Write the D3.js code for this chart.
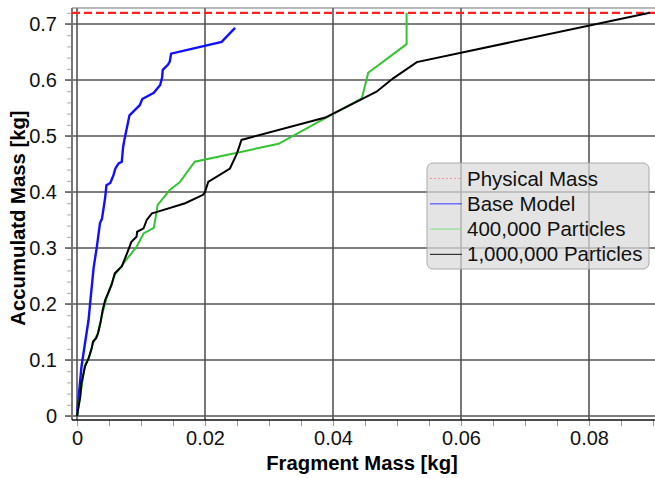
<!DOCTYPE html>
<html>
<head>
<meta charset="utf-8">
<script src="https://cdn.jsdelivr.net/npm/d3@7"></script>
<style>
  body { margin: 0; background: #fff; }
  svg { display: block; font-family: "Liberation Sans", Arial, sans-serif; }
</style>
</head>
<body>
<div id="chart"></div>
<script>
// physical (total) mass of the object
var physicalMass = 0.72

// cumulative mass vs fragment mass
var baseModel = [
  [0,0],[0.0003,0.04],[0.0007,0.088],[0.00125,0.13],[0.0018,0.171],[0.0021,0.207],
  [0.0026,0.265],[0.0031,0.302],[0.0036,0.345],[0.0039,0.352],[0.0044,0.39],
  [0.0046,0.412],[0.0052,0.416],[0.0057,0.43],[0.006,0.442],[0.0065,0.451],
  [0.007,0.454],[0.0072,0.48],[0.0074,0.493],[0.0082,0.537],[0.0098,0.555],
  [0.0102,0.566],[0.012,0.577],[0.013,0.591],[0.0133,0.605],[0.0134,0.618],
  [0.0142,0.627],[0.0145,0.633],[0.0147,0.647],[0.0226,0.668],[0.0247,0.693]
]

var particles400k = [
  [0,0],[0.0005,0.035],[0.0012,0.09],[0.0019,0.105],[0.0025,0.13],[0.0032,0.146],
  [0.0039,0.18],[0.0046,0.21],[0.0059,0.252],[0.0077,0.279],[0.0093,0.302],
  [0.0104,0.326],[0.012,0.336],[0.0124,0.362],[0.0126,0.377],[0.0145,0.4035],
  [0.0161,0.418],[0.0184,0.454],[0.0315,0.486],[0.0388,0.532],[0.0445,0.567],
  [0.0455,0.613],[0.0515,0.664],[0.0515,0.72]
]

var particles1m = [
  [0,0],[0.0005,0.034],[0.0007,0.059],[0.00125,0.088],[0.0018,0.103],[0.0023,0.121],
  [0.0025,0.133],[0.003,0.139],[0.0033,0.148],[0.0037,0.168],[0.004,0.189],
  [0.0044,0.207],[0.0054,0.234],[0.0059,0.255],[0.007,0.267],[0.0078,0.29],
  [0.0085,0.311],[0.0093,0.32],[0.0094,0.329],[0.0104,0.335],[0.0109,0.35],
  [0.0117,0.362],[0.0124,0.364],[0.0169,0.38],[0.0197,0.395],[0.02,0.4],
  [0.0205,0.418],[0.0239,0.442],[0.025,0.469],[0.0257,0.493],[0.0388,0.533],
  [0.0468,0.579],[0.0494,0.603],[0.0531,0.632],[0.0895,0.72]
]

var xTicks = [0, 0.02, 0.04, 0.06, 0.08]
var yTicks = [0, 0.1, 0.2, 0.3, 0.4, 0.5, 0.6, 0.7]
var legendLabels = ["Physical Mass", "Base Model", "400,000 Particles", "1,000,000 Particles"]

var W = 655, H = 478

var svg = d3.select("#chart").append("svg")
  .attr("width", W)
  .attr("height", H)

// scales: 0 -> 77px, 0.02 steps of 128px ; y 0 -> 416px, 0.1 steps of 56px
var x = d3.scaleLinear().domain([0, 0.09]).range([77, 653])
var y = d3.scaleLinear().domain([0, 0.7]).range([416, 24])

// plot edges (don't call it "top", that is window.top)
var pLeft = 72, pRight = W, pTop = 8, pBottom = 420

// minor ticks
var xMinor = d3.range(0, 0.0901, 0.005)
var yMinor = d3.range(0, 0.721, 0.02)

svg.append("g")
  .attr("transform", "translate(0," + pBottom + ")")
  .call(d3.axisBottom(x).tickValues(xMinor).tickSize(6).tickFormat(""))
  .call(g => g.select(".domain").remove())
  .selectAll("line").style("stroke", "#999").style("stroke-width", 1)

svg.append("g")
  .attr("transform", "translate(" + pLeft + ",0)")
  .call(d3.axisLeft(y).tickValues(yMinor).tickSize(5).tickFormat(""))
  .call(g => g.select(".domain").remove())
  .selectAll("line").style("stroke", "#aaa").style("stroke-width", 1)

// grid lines
svg.append("g")
  .selectAll("line")
  .data(xTicks)
  .join("line")
  .attr("x1", d => x(d)).attr("x2", d => x(d))
  .attr("y1", pTop).attr("y2", pBottom)
  .style("stroke", "#555")
  .style("stroke-width", 1.6)

svg.append("g")
  .selectAll("line")
  .data(yTicks)
  .join("line")
  .attr("x1", pLeft - 7).attr("x2", pRight)
  .attr("y1", d => y(d)).attr("y2", d => y(d))
  .style("stroke", "#555")
  .style("stroke-width", 1.6)

// top border
svg.append("line")
  .attr("x1", pLeft).attr("x2", pRight)
  .attr("y1", pTop).attr("y2", pTop)
  .style("stroke", "#777").style("stroke-width", 1.2)

// axis frame
svg.append("line")
  .attr("x1", pLeft).attr("x2", pLeft)
  .attr("y1", pTop).attr("y2", pBottom)
  .style("stroke", "#777").style("stroke-width", 2)

svg.append("line")
  .attr("x1", pLeft).attr("x2", pRight)
  .attr("y1", pBottom).attr("y2", pBottom)
  .style("stroke", "#111").style("stroke-width", 1.5)

// tick labels
var xAxis = svg.append("g")
  .attr("transform", "translate(0," + pBottom + ")")
  .call(d3.axisBottom(x).tickValues(xTicks).tickSize(0).tickPadding(11)
    .tickFormat(d => d === 0 ? "0" : d3.format(".2f")(d)))
xAxis.select(".domain").remove()
xAxis.selectAll("text")
  .style("font-family", "Liberation Sans, Arial, sans-serif")
  .style("font-size", "20px")
  .style("fill", "#111")

var yAxis = svg.append("g")
  .attr("transform", "translate(" + pLeft + ",0)")
  .call(d3.axisLeft(y).tickValues(yTicks).tickSize(0).tickPadding(15)
    .tickFormat(d => d === 0 ? "0" : d3.format(".1f")(d)))
yAxis.select(".domain").remove()
yAxis.selectAll("text")
  .style("font-family", "Liberation Sans, Arial, sans-serif")
  .style("font-size", "20px")
  .style("fill", "#111")

// axis titles
svg.append("text")
  .attr("x", 362)
  .attr("y", 470)
  .attr("text-anchor", "middle")
  .style("font-size", "20.3px")
  .style("font-weight", "bold")
  .text("Fragment Mass [kg]")

svg.append("text")
  .attr("transform", "translate(25,218) rotate(-90)")
  .attr("text-anchor", "middle")
  .style("font-size", "20.3px")
  .style("font-weight", "bold")
  .text("Accumulatd Mass [kg]")

// data lines, clipped to the plot
svg.append("clipPath").attr("id", "plot-clip")
  .append("rect")
  .attr("x", pLeft).attr("y", pTop - 2)
  .attr("width", pRight - pLeft).attr("height", pBottom - pTop + 2)

var plot = svg.append("g").attr("clip-path", "url(#plot-clip)")

var line = d3.line().x(d => x(d[0])).y(d => y(d[1]))

plot.append("line")
  .attr("x1", pLeft).attr("x2", pRight)
  .attr("y1", y(physicalMass)).attr("y2", y(physicalMass))
  .style("stroke", "#ff2020")
  .style("stroke-width", 2.2)
  .style("stroke-dasharray", "8,4")

plot.append("path").datum(baseModel)
  .attr("d", line)
  .style("fill", "none").style("stroke", "#1010ff").style("stroke-width", 2.4)

plot.append("path").datum(particles400k)
  .attr("d", line)
  .style("fill", "none").style("stroke", "#33c333").style("stroke-width", 2)

plot.append("path").datum(particles1m)
  .attr("d", line)
  .style("fill", "none").style("stroke", "#000").style("stroke-width", 2)

// legend
var legend = svg.append("g").attr("transform", "translate(427,163)")

legend.append("rect")
  .attr("width", 222).attr("height", 106)
  .attr("rx", 6).attr("ry", 6)
  .style("fill", "rgba(218,218,218,0.72)")
  .style("stroke", "#aaa")
  .style("stroke-width", 1)

var legendStyles = [
  {color: "#ff9090", dash: "2,2"},
  {color: "#5050ff", dash: null},
  {color: "#90e090", dash: null},
  {color: "#333", dash: null}
]

legendLabels.forEach(function(label, i) {
  var cy = 15.5 + i * 25.3
  legend.append("line")
    .attr("x1", 3).attr("x2", 35)
    .attr("y1", cy).attr("y2", cy)
    .style("stroke", legendStyles[i].color)
    .style("stroke-width", 1.2)
    .style("stroke-dasharray", legendStyles[i].dash)
  legend.append("text")
    .attr("x", 40)
    .attr("y", cy + 7)
    .style("font-size", "20.5px")
    .style("fill", "#111")
    .text(label)
})
</script>
</body>
</html>
